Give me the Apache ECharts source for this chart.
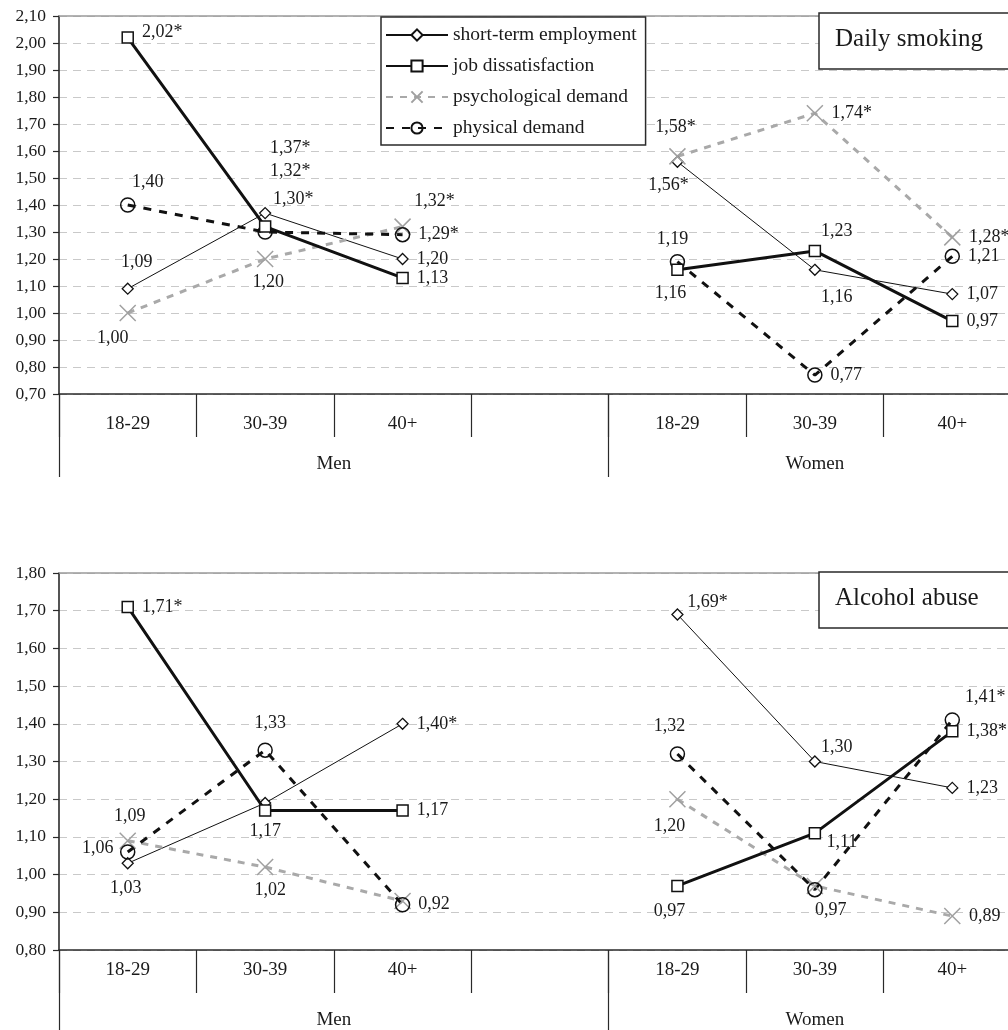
<!DOCTYPE html>
<html><head><meta charset="utf-8">
<script src="https://cdn.jsdelivr.net/npm/echarts@6/dist/echarts.min.js"></script>
<style>html,body{margin:0;padding:0;background:#fff}#c{width:1008px;height:1030px}</style>
</head><body><div id="c"></div>
<script>
// ---------- data ----------
const ageGroups = ['18-29', '30-39', '40+', '', '18-29', '30-39', '40+'];
const sexGroups = ['Men', 'Women'];
const seriesNames = ['short-term employment', 'job dissatisfaction', 'psychological demand', 'physical demand'];
const panelTitles = ['Daily smoking', 'Alcohol abuse'];

// Daily smoking (odds ratios)
const smokeShortTerm = [1.09, 1.37, 1.20, null, 1.56, 1.16, 1.07];
const smokeJobDissat = [2.02, 1.32, 1.13, null, 1.16, 1.23, 0.97];
const smokePsychDemand = [1.00, 1.20, 1.32, null, 1.58, 1.74, 1.28];
const smokePhysDemand = [1.40, 1.30, 1.29, null, 1.19, 0.77, 1.21];
// significance: 1 = significant (*), 0 = not significant, -1 = value not labelled
const smokeShortTermSig = [0, 1, 0, null, 1, 0, 0];
const smokeJobDissatSig = [1, 1, 0, null, 0, 0, 0];
const smokePsychDemandSig = [0, 0, 1, null, 1, 1, 1];
const smokePhysDemandSig = [0, 1, 1, null, 0, 0, 0];

// Alcohol abuse (odds ratios)
const alcShortTerm = [1.03, 1.19, 1.40, null, 1.69, 1.30, 1.23];
const alcJobDissat = [1.71, 1.17, 1.17, null, 0.97, 1.11, 1.38];
const alcPsychDemand = [1.09, 1.02, 0.93, null, 1.20, 0.97, 0.89];
const alcPhysDemand = [1.06, 1.33, 0.92, null, 1.32, 0.96, 1.41];
const alcShortTermSig = [0, -1, 1, null, 1, 0, 0];
const alcJobDissatSig = [1, 0, 0, null, 0, 0, 1];
const alcPsychDemandSig = [0, 0, -1, null, 0, 0, 0];
const alcPhysDemandSig = [0, 0, 0, null, 0, -1, 1];

// y-axis ranges
const smokeAxis = [0.70, 2.10];
const alcAxis = [0.80, 1.80];

// ---------- label placement (style only) ----------
// ['r', dy] = right of marker; [dx, dy] = label centre offset from marker
const smokePlace = [
  [[9, -26], [25, -65], ['r', 0], null, [-9, 23], [22, 27], ['r', 0]],
  [['r', -5], [25, -55], ['r', 0], null, [-7, 23], [22, -20], ['r', 0]],
  [[-15, 25], [3, 23], [32, -25], null, [-2, -29], ['r', 0], ['r', 0]],
  [[20, -23], [28, -33], ['r', 0], null, [-5, -22], ['r', 0], ['r', 0]]
];
const alcPlace = [
  [[-2, 25], null, ['r', 0], null, [30, -12], [22, -14], ['r', 0]],
  [['r', 0], [0, 21], ['r', 0], null, [-8, 25], [27, 9], ['r', 0]],
  [[2, -24], [5, 23], null, null, [-8, 27], [16, 24], ['r', 0]],
  [[-30, -4], [5, -27], ['r', 0], null, [-8, -28], null, [33, -23]]
];

const FONT = "'Liberation Serif', 'Times New Roman', serif";
const TXT = '#1a1a1a';

const seriesStyles = [
  { lineStyle: { color: '#111', width: 1 }, symbol: 'diamond', symbolSize: 11,
    itemStyle: { color: '#fff', borderColor: '#111', borderWidth: 1.3 } },
  { lineStyle: { color: '#111', width: 3 }, symbol: 'rect', symbolSize: 11,
    itemStyle: { color: '#fff', borderColor: '#111', borderWidth: 1.5 } },
  { lineStyle: { color: '#a9a9a9', width: 3, type: [7, 7] }, symbol: 'path://M0,0L10,10M10,0L0,10', symbolSize: 16,
    itemStyle: { color: 'rgba(0,0,0,0)', borderColor: '#a0a0a0', borderWidth: 1.5 } },
  { lineStyle: { color: '#111', width: 3, type: [8, 8] }, symbol: 'circle', symbolSize: 14,
    itemStyle: { color: 'rgba(255,255,255,0)', borderColor: '#111', borderWidth: 1.5 } }
];

function fmt(v) { return v.toFixed(2).replace('.', ','); }

function mkSeries(k, vals, sig, places, gi) {
  const data = vals.map((v, i) => {
    if (v == null) return null;
    const item = { value: v };
    const p = places[i];
    if (sig[i] === -1 || !p) {
      item.label = { show: false };
    } else {
      const txt = fmt(v) + (sig[i] === 1 ? '*' : '');
      if (p[0] === 'r') {
        item.label = { show: true, position: 'right', distance: 8, offset: [0, p[1]], formatter: txt };
      } else {
        item.label = { show: true, position: 'inside', offset: p, formatter: txt };
      }
    }
    return item;
  });
  const st = seriesStyles[k];
  return {
    type: 'line', name: seriesNames[k], xAxisIndex: gi * 3, yAxisIndex: gi,
    data: data, connectNulls: false, symbol: st.symbol, symbolSize: st.symbolSize,
    showAllSymbol: true, lineStyle: st.lineStyle, itemStyle: st.itemStyle,
    label: { fontFamily: FONT, fontSize: 18, color: TXT },
    emphasis: { disabled: true }, z: 3 + (k === 1 ? 1 : 0)
  };
}

const gridDefs = [
  { left: 59, top: 16, width: 962, height: 378, catMargin: 21 },
  { left: 59, top: 573, width: 962, height: 377, catMargin: 11 }
];

const xAxes = [], yAxes = [];
gridDefs.forEach((g, gi) => {
  xAxes.push({
    type: 'category', gridIndex: gi, data: ageGroups, position: 'bottom', boundaryGap: true,
    axisLine: { show: true, lineStyle: { color: '#2a2a2a', width: 1.6 } },
    axisTick: { show: true, interval: 0, length: 43, lineStyle: { color: '#2a2a2a', width: 1.2 } },
    axisLabel: { interval: 0, margin: g.catMargin, fontFamily: FONT, fontSize: 19, color: TXT },
    splitLine: { show: false }
  });
  xAxes.push({
    type: 'value', gridIndex: gi, position: 'bottom', min: 0, max: 7,
    axisLine: { show: false },
    axisTick: { show: true, customValues: [0, 4, 7], length: 83, lineStyle: { color: '#2a2a2a', width: 1.2 } },
    axisLabel: { show: true, customValues: [2, 5.5], margin: 61, fontFamily: FONT, fontSize: 19, color: TXT,
      formatter: v => (v < 4 ? sexGroups[0] : sexGroups[1]) },
    splitLine: { show: false }
  });
  xAxes.push({
    type: 'value', gridIndex: gi, position: 'top', min: 0, max: 1,
    axisLine: { show: true, lineStyle: { color: '#9a9a9a', width: 1.6 } },
    axisTick: { show: false }, axisLabel: { show: false }, splitLine: { show: false }
  });
  const rng = gi === 0 ? smokeAxis : alcAxis;
  yAxes.push({
    type: 'value', gridIndex: gi, min: rng[0], max: rng[1], interval: 0.1,
    axisLine: { show: true, lineStyle: { color: '#2a2a2a', width: 1.6 } },
    axisTick: { show: true, length: 6, lineStyle: { color: '#2a2a2a', width: 1.2 } },
    axisLabel: { margin: 13, fontFamily: FONT, fontSize: 17.5, color: TXT, formatter: v => fmt(v) },
    splitLine: { show: true, lineStyle: { color: '#c9c9c9', width: 1, type: [8, 6] } }
  });
});

const series = [
  mkSeries(0, smokeShortTerm, smokeShortTermSig, smokePlace[0], 0),
  mkSeries(1, smokeJobDissat, smokeJobDissatSig, smokePlace[1], 0),
  mkSeries(2, smokePsychDemand, smokePsychDemandSig, smokePlace[2], 0),
  mkSeries(3, smokePhysDemand, smokePhysDemandSig, smokePlace[3], 0),
  mkSeries(0, alcShortTerm, alcShortTermSig, alcPlace[0], 1),
  mkSeries(1, alcJobDissat, alcJobDissatSig, alcPlace[1], 1),
  mkSeries(2, alcPsychDemand, alcPsychDemandSig, alcPlace[2], 1),
  mkSeries(3, alcPhysDemand, alcPhysDemandSig, alcPlace[3], 1)
];

const titleBox = (text, top) => ({
  text: text, left: 819, top: top, padding: [14, 60, 17, 16],
  borderColor: '#2a2a2a', borderWidth: 1.5, backgroundColor: '#fff',
  textStyle: { fontFamily: FONT, fontSize: 25, fontWeight: 'normal', color: TXT }
});

const chart = echarts.init(document.getElementById('c'), null, { renderer: 'canvas' });
chart.setOption({
  animation: false,
  backgroundColor: '#fff',
  title: [titleBox(panelTitles[0], 13), titleBox(panelTitles[1], 572)],
  legend: {
    data: seriesNames, orient: 'vertical', left: 381, top: 17,
    itemWidth: 62, itemHeight: 14, itemGap: 11, padding: [8, 9, 7, 4],
    borderColor: '#2a2a2a', borderWidth: 1.5, backgroundColor: '#fff',
    selectedMode: false,
    textStyle: { fontFamily: FONT, fontSize: 19.5, color: TXT }
  },
  grid: gridDefs.map(g => ({ left: g.left, top: g.top, width: g.width, height: g.height, outerBoundsMode: 'none', containLabel: false })),
  xAxis: xAxes,
  yAxis: yAxes,
  series: series
});
</script>
</body></html>
